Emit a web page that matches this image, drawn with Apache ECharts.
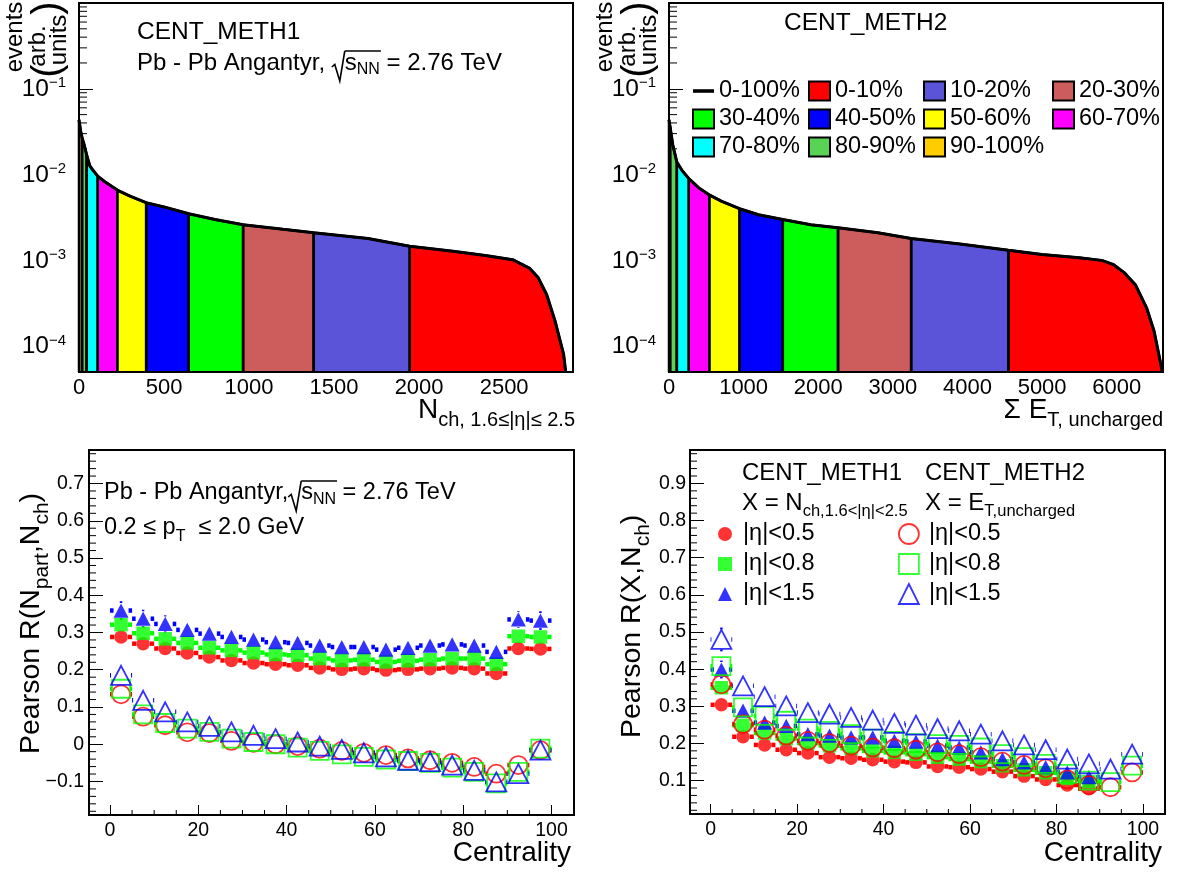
<!DOCTYPE html>
<html><head><meta charset="utf-8">
<script src="https://cdn.jsdelivr.net/npm/echarts@6/dist/echarts.min.js"></script>
<style>html,body{margin:0;padding:0;background:#fff}#c{width:1177px;height:872px}</style>
</head><body><div id="c"></div>
<script>
// ================= DATA =================
// Top-left: N_ch distribution (CENT_METH1)
const nchX = [0, 10, 18, 30, 45, 64, 80, 110, 121, 150, 225, 300, 395, 500, 645, 800, 965, 1200, 1380, 1700, 1945, 2200, 2400, 2550, 2650, 2700, 2750, 2800, 2850, 2862];
const nchY = [0.0436, 0.032, 0.027, 0.0224, 0.017, 0.0126, 0.0114, 0.0096, 0.0091, 0.0083, 0.0066, 0.0056, 0.0047, 0.0042, 0.0035, 0.0030, 0.0026, 0.0023, 0.0021, 0.0018, 0.00146, 0.00128, 0.00113, 0.00102, 0.00081, 0.00063, 0.00040, 0.000195, 0.000080, 0.00005];
const nchEdges = [0, 18, 45, 110, 225, 395, 645, 965, 1380, 1945, 2862];
// Top-right: Sum E_T uncharged distribution (CENT_METH2)
const etX = [0, 15, 50, 105, 180, 265, 400, 540, 700, 945, 1200, 1525, 1900, 2265, 2800, 3245, 3900, 4550, 5000, 5500, 5800, 5950, 6100, 6250, 6400, 6500, 6610];
const etY = [0.0436, 0.036, 0.0224, 0.0140, 0.0110, 0.0090, 0.0070, 0.0058, 0.0049, 0.0040, 0.0034, 0.0030, 0.0026, 0.0024, 0.0021, 0.0018, 0.00155, 0.00131, 0.00117, 0.00107, 0.00100, 0.00090, 0.00072, 0.00052, 0.00028, 0.000150, 0.000051];
const etEdges = [0, 15, 105, 265, 540, 945, 1525, 2265, 3245, 4550, 6610];
const classNames = ['90-100%', '80-90%', '70-80%', '60-70%', '50-60%', '40-50%', '30-40%', '20-30%', '10-20%', '0-10%'];

// Bottom panels: centrality bins
const cent = [2.5, 7.5, 12.5, 17.5, 22.5, 27.5, 32.5, 37.5, 42.5, 47.5, 52.5, 57.5, 62.5, 67.5, 72.5, 77.5, 82.5, 87.5, 92.5, 97.5];
const binHalfWidth = 2.5;
// Bottom-left: Pearson R(Npart, Nch)
const bl_m1_eta05 = [0.288, 0.270, 0.257, 0.245, 0.234, 0.225, 0.218, 0.215, 0.212, 0.205, 0.201, 0.203, 0.199, 0.201, 0.203, 0.205, 0.203, 0.190, 0.257, 0.256];
const bl_m1_eta08 = [0.321, 0.298, 0.283, 0.272, 0.259, 0.252, 0.246, 0.241, 0.239, 0.230, 0.225, 0.227, 0.221, 0.224, 0.227, 0.230, 0.230, 0.215, 0.290, 0.288];
const bl_m1_eta15 = [0.359, 0.337, 0.323, 0.307, 0.297, 0.288, 0.281, 0.274, 0.272, 0.265, 0.261, 0.261, 0.254, 0.259, 0.265, 0.268, 0.265, 0.248, 0.335, 0.332];
const bl_m2_eta05 = [0.134, 0.074, 0.051, 0.032, 0.030, 0.009, 0.004, 0.000, -0.005, -0.012, -0.018, -0.023, -0.029, -0.038, -0.043, -0.050, -0.061, -0.079, -0.056, -0.016];
const bl_m2_eta08 = [0.149, 0.080, 0.057, 0.042, 0.033, 0.015, 0.006, 0.000, -0.009, -0.018, -0.027, -0.034, -0.041, -0.045, -0.050, -0.063, -0.074, -0.105, -0.074, -0.012];
const bl_m2_eta15 = [0.185, 0.118, 0.087, 0.060, 0.048, 0.033, 0.024, 0.015, 0.006, -0.005, -0.014, -0.023, -0.034, -0.043, -0.047, -0.056, -0.070, -0.101, -0.079, -0.016];
const bl_m1_eta05_err = [0.014, 0.013, 0.012, 0.012, 0.011, 0.011, 0.011, 0.011, 0.011, 0.011, 0.011, 0.011, 0.011, 0.011, 0.011, 0.011, 0.011, 0.012, 0.014, 0.014];
const bl_m1_eta08_err = [0.018, 0.016, 0.015, 0.014, 0.013, 0.013, 0.013, 0.013, 0.013, 0.013, 0.013, 0.013, 0.013, 0.013, 0.013, 0.013, 0.013, 0.014, 0.018, 0.018];
const bl_m1_eta15_err = [0.025, 0.024, 0.023, 0.020, 0.018, 0.017, 0.017, 0.017, 0.017, 0.017, 0.017, 0.017, 0.017, 0.017, 0.017, 0.017, 0.017, 0.019, 0.022, 0.025];
const bl_m2_eta05_err = [0.016, 0.015, 0.015, 0.015, 0.015, 0.015, 0.015, 0.015, 0.015, 0.015, 0.015, 0.015, 0.015, 0.015, 0.015, 0.015, 0.015, 0.016, 0.016, 0.016];
const bl_m2_eta08_err = [0.018, 0.017, 0.017, 0.017, 0.017, 0.017, 0.017, 0.017, 0.017, 0.017, 0.017, 0.017, 0.017, 0.017, 0.017, 0.017, 0.017, 0.018, 0.018, 0.018];
const bl_m2_eta15_err = [0.022, 0.020, 0.020, 0.020, 0.020, 0.020, 0.020, 0.020, 0.020, 0.020, 0.020, 0.020, 0.020, 0.020, 0.020, 0.020, 0.020, 0.021, 0.021, 0.021];
// Bottom-right: Pearson R(X, Nch)
const br_m1_eta05 = [0.304, 0.218, 0.196, 0.183, 0.174, 0.163, 0.160, 0.156, 0.151, 0.149, 0.138, 0.136, 0.131, 0.124, 0.112, 0.103, 0.088, 0.078];
const br_m1_eta08 = [0.350, 0.249, 0.228, 0.213, 0.201, 0.194, 0.187, 0.180, 0.176, 0.171, 0.163, 0.158, 0.151, 0.140, 0.129, 0.121, 0.106, 0.097];
const br_m1_eta15 = [0.399, 0.288, 0.256, 0.247, 0.225, 0.221, 0.216, 0.216, 0.207, 0.205, 0.194, 0.189, 0.176, 0.158, 0.149, 0.136, 0.122, 0.109];
const br_m2_eta05 = [0.359, 0.252, 0.237, 0.221, 0.207, 0.201, 0.194, 0.189, 0.187, 0.183, 0.176, 0.171, 0.163, 0.151, 0.142, 0.133, 0.103, 0.088, 0.082, 0.122];
const br_m2_eta08 = [0.408, 0.297, 0.274, 0.261, 0.240, 0.234, 0.225, 0.213, 0.207, 0.201, 0.198, 0.196, 0.189, 0.171, 0.163, 0.145, 0.118, 0.100, 0.096, 0.140];
const br_m2_eta15 = [0.480, 0.355, 0.326, 0.301, 0.283, 0.279, 0.270, 0.263, 0.254, 0.249, 0.240, 0.234, 0.225, 0.207, 0.196, 0.183, 0.158, 0.145, 0.131, 0.171];
const br_m1_eta05_err = [0.013, 0.011, 0.011, 0.011, 0.011, 0.011, 0.011, 0.011, 0.011, 0.011, 0.011, 0.011, 0.011, 0.011, 0.011, 0.011, 0.011, 0.011];
const br_m1_eta08_err = [0.016, 0.013, 0.013, 0.013, 0.013, 0.013, 0.013, 0.013, 0.013, 0.013, 0.013, 0.013, 0.013, 0.013, 0.013, 0.013, 0.013, 0.013];
const br_m1_eta15_err = [0.024, 0.020, 0.018, 0.017, 0.017, 0.017, 0.017, 0.017, 0.017, 0.017, 0.017, 0.017, 0.017, 0.017, 0.017, 0.017, 0.017, 0.017];
const br_m2_eta05_err = [0.016, 0.015, 0.015, 0.015, 0.015, 0.015, 0.015, 0.015, 0.015, 0.015, 0.015, 0.015, 0.015, 0.015, 0.015, 0.015, 0.015, 0.015, 0.015, 0.015];
const br_m2_eta08_err = [0.020, 0.017, 0.017, 0.017, 0.017, 0.017, 0.017, 0.017, 0.017, 0.017, 0.017, 0.017, 0.017, 0.017, 0.017, 0.017, 0.017, 0.017, 0.017, 0.017];
const br_m2_eta15_err = [0.032, 0.022, 0.021, 0.021, 0.021, 0.021, 0.021, 0.021, 0.021, 0.021, 0.021, 0.021, 0.021, 0.021, 0.021, 0.021, 0.021, 0.021, 0.021, 0.021];

// Tick values
const logMinorTicks = [6e-5, 7e-5, 8e-5, 9e-5, 2e-4, 3e-4, 4e-4, 5e-4, 6e-4, 7e-4, 8e-4, 9e-4, 2e-3, 3e-3, 4e-3, 5e-3, 6e-3, 7e-3, 8e-3, 9e-3, 0.02, 0.03, 0.04, 0.05, 0.06, 0.07, 0.08, 0.09, 0.2, 0.3, 0.4, 0.5, 0.6, 0.7, 0.8, 0.9];
const centMinorTicks = [5, 10, 15, 25, 30, 35, 45, 50, 55, 65, 70, 75, 85, 90, 95];
const blMinorTicks = [-0.18, -0.16, -0.14, -0.12, -0.08, -0.06, -0.04, -0.02, 0.02, 0.04, 0.06, 0.08, 0.12, 0.14, 0.16, 0.18, 0.22, 0.24, 0.26, 0.28, 0.32, 0.34, 0.36, 0.38, 0.42, 0.44, 0.46, 0.48, 0.52, 0.54, 0.56, 0.58, 0.62, 0.64, 0.66, 0.68, 0.72, 0.74, 0.76, 0.78];
const brMinorTicks = [0.02, 0.04, 0.06, 0.08, 0.12, 0.14, 0.16, 0.18, 0.22, 0.24, 0.26, 0.28, 0.32, 0.34, 0.36, 0.38, 0.42, 0.44, 0.46, 0.48, 0.52, 0.54, 0.56, 0.58, 0.62, 0.64, 0.66, 0.68, 0.72, 0.74, 0.76, 0.78, 0.82, 0.84, 0.86, 0.88, 0.92, 0.94, 0.96, 0.98];

// Axis ranges
const Y_LOG_MIN = 5e-5, Y_LOG_MAX = 1;
const NCH_MAX = 2905, ET_MAX = 6620;
const C_MIN = -4.76, C_MAX = 105.1;
const BL_MIN = -0.19, BL_MAX = 0.79, BR_MIN = 0.01, BR_MAX = 0.99;

// ================= STYLE =================
const FONT = '"Liberation Sans", Arial, Helvetica, sans-serif';
const classColors = ['#ffcc00', '#59d354', '#00ffff', '#ff00ff', '#ffff00', '#0000ff', '#00ff00', '#cd5c5c', '#5b54d8', '#ff0000'];
const RED = '#ff0000', GREEN = '#00ff00', BLUE = '#0000ff';

const mctx = document.createElement('canvas').getContext('2d');
function tw(t, s) { mctx.font = s + 'px ' + FONT; return mctx.measureText(t).width; }

function formula(parts, o) {
  let cx = 0; const kids = []; let ov0 = null, ov1 = null;
  for (const p of parts) {
    if (p.sqrt) {
      kids.push({type: 'polyline', x: 0, shape: {points: [[cx, 4], [cx + 3, 1.5], [cx + 8, 18], [cx + 13, o.ovY]]},
        style: {stroke: '#000', lineWidth: 1.6, fill: 'none'}});
      cx += 13; ov0 = cx; continue;
    }
    const w = tw(p.t, p.s);
    kids.push({type: 'text', x: cx, y: p.dy || 0, style: {text: p.t, fontSize: p.s, fontFamily: FONT, fill: '#000', align: 'left', verticalAlign: 'middle'}});
    cx += w;
    if (p.over) ov1 = cx;
  }
  if (ov0 !== null) kids.push({type: 'line', x: 0, shape: {x1: ov0, y1: o.ovY, x2: ov1 + 1, y2: o.ovY}, style: {stroke: '#000', lineWidth: 1.6}});
  const sh = o.align === 'right' ? -cx : (o.align === 'center' ? -cx / 2 : 0);
  for (const k of kids) k.x = (k.x || 0) + sh;
  return {type: 'group', x: o.x, y: o.y, rotation: o.rot || 0, children: kids, silent: true};
}
function txt(t, x, y, s, extra) {
  return Object.assign({type: 'text', x: x, y: y, silent: true,
    style: {text: t, fontSize: s, fontFamily: FONT, fill: '#000', align: 'left', verticalAlign: 'middle'}}, extra || {});
}
function rtxt(t, x, y, s, align) {
  return {type: 'text', x: x, y: y, silent: true, rotation: Math.PI / 2,
    style: {text: t, fontSize: s, fontFamily: FONT, fill: '#000', align: align || 'center', verticalAlign: 'middle'}};
}

// ================= SERIES =================
const series = [];
function histSeries(xs, ys, edges, gi) {
  for (let k = 0; k < classNames.length; k++) {
    const a = edges[k], b = edges[k + 1];
    const pts = [[a, Y_LOG_MIN]];
    xs.forEach((x, i) => { if (x >= a && x <= b) pts.push([x, ys[i]]); });
    pts.push([b, Y_LOG_MIN]);
    series.push({type: 'line', name: classNames[k], xAxisIndex: gi, yAxisIndex: gi, data: pts, symbol: 'none',
      lineStyle: {color: '#000', width: 2.5}, itemStyle: {color: classColors[k]},
      areaStyle: {color: classColors[k], opacity: 1, origin: 'start'}, z: 2, silent: true});
  }
  series.push({type: 'line', name: '0-100%', xAxisIndex: gi, yAxisIndex: gi, data: xs.map((x, i) => [x, ys[i]]),
    symbol: 'none', lineStyle: {color: '#000', width: 3}, itemStyle: {color: '#000'}, z: 3, silent: true});
}
histSeries(nchX, nchY, nchEdges, 0);
histSeries(etX, etY, etEdges, 1);

function errRender(gap) {
  return function (params, api) {
    const x = api.value(0), y = api.value(1), ex = api.value(2), ey = api.value(3);
    const c = api.coord([x, y]);
    const xl = api.coord([x - ex, y])[0], xr = api.coord([x + ex, y])[0];
    const yt = api.coord([x, y + ey])[1], yb = api.coord([x, y - ey])[1];
    const col = api.visual('color');
    const sh = {stroke: col, lineWidth: 4.5}, sv = {stroke: col, lineWidth: 2.5};
    const kids = [
      {type: 'line', shape: {x1: xl, y1: c[1], x2: c[0] - gap, y2: c[1]}, style: sh},
      {type: 'line', shape: {x1: c[0] + gap, y1: c[1], x2: xr, y2: c[1]}, style: sh}
    ];
    if (c[1] - yt > gap) kids.push({type: 'line', shape: {x1: c[0], y1: c[1] - gap, x2: c[0], y2: yt}, style: sv});
    if (yb - c[1] > gap) kids.push({type: 'line', shape: {x1: c[0], y1: c[1] + gap, x2: c[0], y2: yb}, style: sv});
    return {type: 'group', children: kids};
  };
}
function pointSeries(gi, name, vals, errs, color, symbol, size, open) {
  const xs = cent.slice(0, vals.length);
  series.push({type: 'custom', name: 'err ' + name + gi, xAxisIndex: gi, yAxisIndex: gi, silent: true, z: 2,
    itemStyle: {color: color}, data: xs.map((x, i) => [x, vals[i], binHalfWidth, errs[i]]),
    encode: {x: 0, y: 1}, renderItem: errRender(size / 2)});
  series.push({type: 'scatter', name: name, xAxisIndex: gi, yAxisIndex: gi, silent: true, z: 3,
    symbol: symbol, symbolSize: symbol === 'triangle' ? [size, size * 0.95] : size,
    itemStyle: open ? {color: 'rgba(0,0,0,0)', borderColor: color, borderWidth: 1.8} : {color: color},
    data: xs.map((x, i) => [x, vals[i]])});
}
const N1 = 'M1 |η|<0.5', N2 = 'M1 |η|<0.8', N3 = 'M1 |η|<1.5';
const O1 = 'M2 |η|<0.5', O2 = 'M2 |η|<0.8', O3 = 'M2 |η|<1.5';
pointSeries(2, N1, bl_m1_eta05, bl_m1_eta05_err, RED, 'circle', 13.5, false);
pointSeries(2, N2, bl_m1_eta08, bl_m1_eta08_err, GREEN, 'rect', 13.5, false);
pointSeries(2, N3, bl_m1_eta15, bl_m1_eta15_err, BLUE, 'triangle', 15, false);
pointSeries(2, O1, bl_m2_eta05, bl_m2_eta05_err, RED, 'circle', 18, true);
pointSeries(2, O2, bl_m2_eta08, bl_m2_eta08_err, GREEN, 'rect', 18, true);
pointSeries(2, O3, bl_m2_eta15, bl_m2_eta15_err, BLUE, 'triangle', 20, true);
pointSeries(3, N1, br_m1_eta05, br_m1_eta05_err, RED, 'circle', 13.5, false);
pointSeries(3, N2, br_m1_eta08, br_m1_eta08_err, GREEN, 'rect', 13.5, false);
pointSeries(3, N3, br_m1_eta15, br_m1_eta15_err, BLUE, 'triangle', 15, false);
pointSeries(3, O1, br_m2_eta05, br_m2_eta05_err, RED, 'circle', 18, true);
pointSeries(3, O2, br_m2_eta08, br_m2_eta08_err, GREEN, 'rect', 18, true);
pointSeries(3, O3, br_m2_eta15, br_m2_eta15_err, BLUE, 'triangle', 20, true);

// minor ticks drawn through the axes' scales
function yMinor(gi, xAt, vals, len, z) {
  series.push({type: 'custom', xAxisIndex: gi, yAxisIndex: gi, silent: true, z: z, clip: false,
    data: vals.map(v => [xAt, v]), encode: {x: 0, y: 1},
    renderItem: (p, api) => { const c = api.coord([api.value(0), api.value(1)]);
      return {type: 'line', shape: {x1: c[0], y1: c[1], x2: c[0] + len, y2: c[1]}, style: {stroke: '#000', lineWidth: 1}}; }});
}
function xMinor(gi, yAt, vals, len, z) {
  series.push({type: 'custom', xAxisIndex: gi, yAxisIndex: gi, silent: true, z: z, clip: false,
    data: vals.map(v => [v, yAt]), encode: {x: 0, y: 1},
    renderItem: (p, api) => { const c = api.coord([api.value(0), api.value(1)]);
      return {type: 'line', shape: {x1: c[0], y1: c[1], x2: c[0], y2: c[1] - len}, style: {stroke: '#000', lineWidth: 1}}; }});
}
yMinor(0, 0, logMinorTicks, 8, 1);
yMinor(1, 0, logMinorTicks, 8, 1);
yMinor(2, C_MIN, blMinorTicks, 7, 5);
yMinor(3, C_MIN, brMinorTicks, 7, 5);
xMinor(2, BL_MIN, centMinorTicks, 5, 5);
xMinor(3, BR_MIN, centMinorTicks, 5, 5);

// ================= AXES =================
const gridBase = {show: true, borderColor: '#000', borderWidth: 2, backgroundColor: 'transparent', z: 4};
const grids = [
  Object.assign({left: 79, top: 3, width: 494, height: 369}, gridBase),
  Object.assign({left: 669, top: 3, width: 494, height: 369}, gridBase),
  Object.assign({left: 89, top: 450, width: 485, height: 365}, gridBase),
  Object.assign({left: 690, top: 450, width: 475, height: 364}, gridBase)
];
const noLine = {show: false, onZero: false};
const lbl = (s, m, extra) => Object.assign({color: '#000', fontFamily: FONT, fontSize: s, margin: m}, extra || {});
function topX(gi, max, interval) {
  return {type: 'value', gridIndex: gi, min: 0, max: max, interval: interval, axisLine: noLine, splitLine: {show: false},
    axisTick: {show: false}, axisLabel: lbl(22, 5, {showMaxLabel: false, formatter: v => String(v)})};
}
function topY(gi) {
  return {type: 'log', logBase: 10, gridIndex: gi, min: Y_LOG_MIN, max: Y_LOG_MAX, axisLine: noLine, splitLine: {show: false},
    axisTick: {inside: true, length: 14, lineStyle: {color: '#000', width: 1}},
    axisLabel: {margin: 13, showMinLabel: false, showMaxLabel: false,
      formatter: v => '{b|10}{s|−' + (-Math.round(Math.log10(v))) + '}',
      rich: {b: {fontSize: 24.5, fontFamily: FONT, color: '#000', lineHeight: 26, verticalAlign: 'bottom'},
             s: {fontSize: 15, fontFamily: FONT, color: '#000', lineHeight: 12, verticalAlign: 'top'}}}};
}
function botX(gi) {
  return {type: 'value', gridIndex: gi, min: C_MIN, max: C_MAX, minInterval: 20, maxInterval: 20, axisLine: noLine,
    splitLine: {show: false}, axisTick: {inside: true, length: 10, lineStyle: {color: '#000', width: 1}},
    axisLabel: lbl(19.5, 6, {showMinLabel: false, showMaxLabel: false, formatter: v => String(v)})};
}
function botY(gi, mn, mx, m) {
  return {type: 'value', gridIndex: gi, min: mn, max: mx, minInterval: 0.1, maxInterval: 0.1, axisLine: noLine,
    splitLine: {show: false}, axisTick: {inside: true, length: 14, lineStyle: {color: '#000', width: 1}},
    axisLabel: lbl(19.5, m, {showMinLabel: false, showMaxLabel: false,
      formatter: v => Math.abs(v) < 1e-9 ? '0' : (v < 0 ? '−' : '') + Math.abs(v).toFixed(1)})};
}

// ================= LEGENDS =================
const legendCols = [['0-100%', '30-40%', '70-80%'], ['0-10%', '40-50%', '80-90%'], ['10-20%', '50-60%', '90-100%'], ['20-30%', '60-70%']];
const legendLeft = [687, 803, 918, 1047];
const legends = legendCols.map((col, ci) => ({
  orient: 'vertical', left: legendLeft[ci], top: 74, itemWidth: 21, itemHeight: 19, itemGap: 4, selectedMode: false,
  textStyle: {fontSize: 23.5, fontFamily: FONT, color: '#000'},
  data: col.map(n => n === '0-100%'
    ? {name: n, icon: 'path://M0,0H20V3.4H0Z', itemStyle: {color: '#000', borderWidth: 0}}
    : {name: n, icon: 'rect', itemStyle: {color: classColors[classNames.indexOf(n)], borderColor: '#000', borderWidth: 2}})
}));
const stripName = n => n.replace(/^M[12] /, '');
legends.push({orient: 'vertical', left: 713, top: 517, itemWidth: 14, itemHeight: 14, itemGap: 6, selectedMode: false,
  formatter: stripName, textStyle: {fontSize: 23.5, fontFamily: FONT, color: '#000', padding: [0, 0, 0, 6]},
  data: [{name: N1, icon: 'circle', itemStyle: {color: RED, borderWidth: 0}},
         {name: N2, icon: 'rect', itemStyle: {color: GREEN, borderWidth: 0}},
         {name: N3, icon: 'triangle', itemStyle: {color: BLUE, borderWidth: 0}}]});
legends.push({orient: 'vertical', left: 893, top: 517, itemWidth: 20, itemHeight: 20, itemGap: 6, selectedMode: false,
  formatter: stripName, textStyle: {fontSize: 23.5, fontFamily: FONT, color: '#000', padding: [0, 0, 0, 5]},
  data: [{name: O1, icon: 'circle', itemStyle: {color: 'rgba(0,0,0,0)', borderColor: RED, borderWidth: 1.8}},
         {name: O2, icon: 'rect', itemStyle: {color: 'rgba(0,0,0,0)', borderColor: GREEN, borderWidth: 1.8}},
         {name: O3, icon: 'triangle', itemStyle: {color: 'rgba(0,0,0,0)', borderColor: BLUE, borderWidth: 1.8}}]});

// ================= TEXTS =================
const R90 = Math.PI / 2;
function eventsTitle(dx) {
  return [
    rtxt('events', 15.5 + dx, 37, 24),
    rtxt('arb.', 38.5 + dx, 46, 24),
    rtxt('units', 59.5 + dx, 40, 24),
    rtxt('(', 49 + dx, 71, 40),
    rtxt(')', 49 + dx, 8, 40)
  ];
}
const graphics = [].concat(
  eventsTitle(0), eventsTitle(590),
  [
    txt('CENT_METH1', 137, 32, 24.5),
    formula([{t: 'Pb - Pb Angantyr, ', s: 24}, {sqrt: true}, {t: 's', s: 24, over: true}, {t: 'NN', s: 16, dy: 7, over: true}, {t: ' = 2.76 TeV', s: 24}], {x: 137, y: 63, ovY: -12}),
    txt('CENT_METH2', 784, 23, 24.5),
    formula([{t: 'N', s: 28}, {t: 'ch, 1.6≤|η|≤ 2.5', s: 20, dy: 10}], {x: 575, y: 410, align: 'right'}),
    formula([{t: 'Σ E', s: 28}, {t: 'T, uncharged', s: 20, dy: 10}], {x: 1163, y: 410, align: 'right'}),
    formula([{t: 'Pb - Pb Angantyr,', s: 23.5}, {sqrt: true}, {t: 's', s: 23.5, over: true}, {t: 'NN', s: 16, dy: 7, over: true}, {t: ' = 2.76 TeV', s: 23.5}], {x: 104, y: 493, ovY: -12}),
    formula([{t: '0.2 ≤ p', s: 23.5}, {t: 'T', s: 16, dy: 9}, {t: '  ≤ 2.0 GeV', s: 23.5}], {x: 104, y: 528}),
    formula([{t: 'Pearson R(N', s: 28.5}, {t: 'part', s: 21, dy: 11}, {t: ',N', s: 28.5}, {t: 'ch', s: 21, dy: 11}, {t: ')', s: 28.5}], {x: 31, y: 754, rot: R90}),
    formula([{t: 'Pearson R(X,N', s: 28.5}, {t: 'ch', s: 21, dy: 11}, {t: ')', s: 28.5}], {x: 632, y: 738, rot: R90}),
    txt('Centrality', 571, 853, 28, {style: {text: 'Centrality', fontSize: 28, fontFamily: FONT, fill: '#000', align: 'right', verticalAlign: 'middle'}}),
    txt('Centrality', 1162, 853, 28, {style: {text: 'Centrality', fontSize: 28, fontFamily: FONT, fill: '#000', align: 'right', verticalAlign: 'middle'}}),
    txt('CENT_METH1', 742, 473, 24),
    txt('CENT_METH2', 925, 473, 24),
    formula([{t: 'X = N', s: 24}, {t: 'ch,1.6<|η|<2.5', s: 16.5, dy: 8}], {x: 742, y: 503}),
    formula([{t: 'X = E', s: 24}, {t: 'T,uncharged', s: 16.5, dy: 8}], {x: 925, y: 503})
  ]);

// ================= CHART =================
const chart = echarts.init(document.getElementById('c'), null, {renderer: 'canvas'});
chart.setOption({
  animation: false,
  backgroundColor: '#fff',
  textStyle: {fontFamily: FONT},
  grid: grids,
  xAxis: [topX(0, NCH_MAX, 500), topX(1, ET_MAX, 1000), botX(2), botX(3)],
  yAxis: [topY(0), topY(1), botY(2, BL_MIN, BL_MAX, 5), botY(3, BR_MIN, BR_MAX, 4)],
  legend: legends,
  series: series,
  graphic: {elements: graphics}
});
</script></body></html>
